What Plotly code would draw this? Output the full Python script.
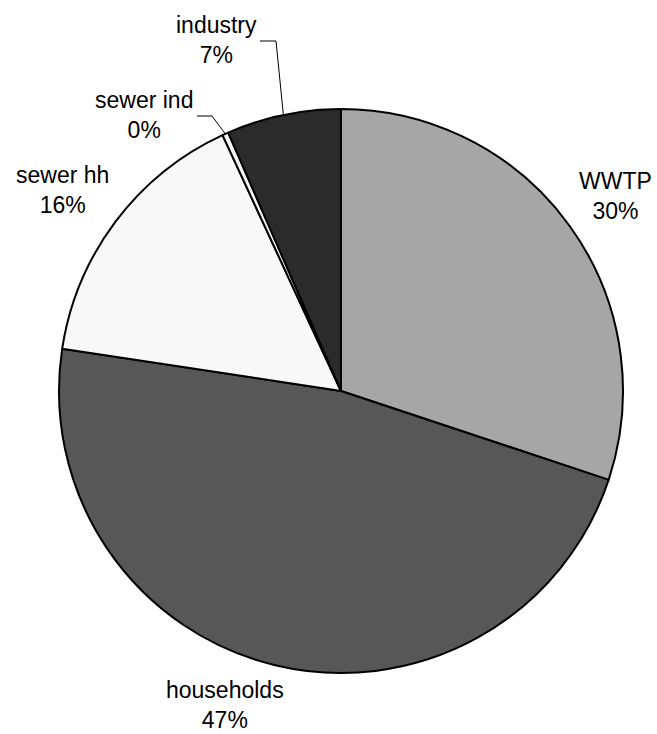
import math
import plotly.graph_objects as go

labels = ["WWTP", "households", "sewer hh", "sewer ind", "industry"]
values = [30.1, 47.3, 15.7, 0.35, 6.55]
colors = ["#a6a6a6", "#575757", "#f8f8f8", "#f4f4f4", "#2b2b2b"]
pct_text = ["30%", "47%", "16%", "0%", "7%"]

W, H = 657, 734
cx, cy, R = 341, 391, 282

# label block centres (pixels)
label_pos = {
    "WWTP": (615, 196),
    "households": (225, 705),
    "sewer hh": (62, 190),
    "sewer ind": (144, 115),
    "industry": (216, 40),
}

def px(x):
    return x / W

def py(y):
    return 1 - y / H

fig = go.Figure(go.Pie(
    labels=labels, values=values, sort=False, direction="clockwise", rotation=0,
    marker=dict(colors=colors, line=dict(color="black", width=2)),
    textinfo="none", hoverinfo="label+percent", showlegend=False,
    domain=dict(x=[px(cx - R), px(cx + R)], y=[py(cy + R), py(cy - R)]),
))

annotations = []
for lab, pt in zip(labels, pct_text):
    x, y = label_pos[lab]
    annotations.append(dict(
        x=px(x), y=py(y), xref="paper", yref="paper", text=f"{lab}<br>{pt}",
        showarrow=False, xanchor="center", yanchor="middle",
        font=dict(family="Liberation Sans, Arial, sans-serif", size=23, color="black"),
    ))

# leader lines to slice mid-angles for the small slices
total = sum(values)
cum = 0
mid = {}
for lab, v in zip(labels, values):
    mid[lab] = (cum + v / 2) / total * 2 * math.pi
    cum += v

shapes = []
leaders = {"industry": (260, 41, 276), "sewer ind": (197, 116, 212)}
for lab, (x0, y0, x1) in leaders.items():
    a = mid[lab]
    ex = cx + R * math.sin(a)
    ey = cy - R * math.cos(a)
    path = f"M {px(x0)} {py(y0)} L {px(x1)} {py(y0)} L {px(ex)} {py(ey)}"
    shapes.append(dict(type="path", xref="paper", yref="paper", path=path,
                       line=dict(color="black", width=1)))

fig.update_layout(
    width=W, height=H, margin=dict(l=0, r=0, t=0, b=0),
    paper_bgcolor="white", plot_bgcolor="white",
    annotations=annotations, shapes=shapes,
)

fig.write_html(
    "out.html",
    config={"displayModeBar": False},
    post_script="document.body.style.margin='0';document.body.style.overflow='hidden';",
)
